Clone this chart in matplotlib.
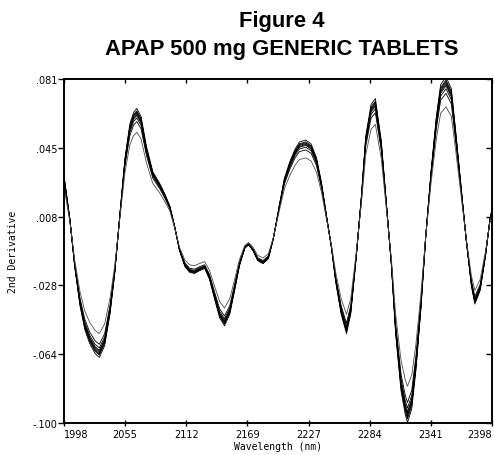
import numpy as np
import matplotlib
matplotlib.use("Agg")
import matplotlib.pyplot as plt

# 2nd derivative NIR spectra, APAP 500 mg generic tablets
# wavelength (nm) and the mean 2nd derivative
wl = [1998, 2003.5, 2008, 2013, 2017.5, 2022, 2027, 2031, 2036, 2041,
      2045.5, 2050, 2055, 2059.5, 2063, 2066, 2070, 2075, 2081, 2087.5,
      2092, 2097, 2101.5, 2106, 2111, 2115.5, 2120, 2125, 2129.5, 2134,
      2139, 2143.5, 2148, 2153, 2157.5, 2162, 2167, 2170.5, 2174.7, 2179,
      2184, 2189, 2193.6, 2199.6, 2204, 2209, 2214, 2218, 2224, 2229,
      2234, 2238.6, 2243, 2248, 2252, 2257, 2262, 2266, 2271, 2276,
      2280, 2285, 2289, 2294.5, 2299, 2304, 2308, 2313, 2317, 2319,
      2323, 2327, 2331.6, 2336, 2341, 2346, 2350, 2355, 2360, 2364,
      2369, 2374, 2378.8, 2382, 2387, 2392, 2396, 2398]
d2 = [0.029, 0.007, -0.017, -0.037, -0.049, -0.056, -0.061, -0.063, -0.057, -0.041,
      -0.020, 0.008, 0.038, 0.055, 0.061, 0.063, 0.059, 0.044, 0.031, 0.025,
      0.020, 0.0135, 0.003, -0.009, -0.017, -0.020, -0.0205, -0.019, -0.018, -0.0235,
      -0.034, -0.043, -0.047, -0.041, -0.029, -0.0166, -0.0077, -0.006, -0.009, -0.014,
      -0.0156, -0.013, -0.003, 0.015, 0.0277, 0.036, 0.0425, 0.046, 0.047, 0.045,
      0.038, 0.0256, 0.0098, -0.0077, -0.025, -0.041, -0.051, -0.041, -0.013, 0.019,
      0.049, 0.065, 0.068, 0.0467, 0.017, -0.0166, -0.0514, -0.080, -0.092, -0.096,
      -0.089, -0.069, -0.038, -0.0024, 0.031, 0.059, 0.075, 0.079, 0.073, 0.052,
      0.024, -0.004, -0.027, -0.036, -0.029, -0.0113, 0.0066, 0.012]

# relative band height of each tablet (read from the peaks)
tablets = [1.04, 1.02, 1.01, 1.0, 0.99, 0.98, 0.96, 0.93, 0.84]

xticks = [1998, 2055.14, 2112.29, 2169.43, 2226.57, 2283.71, 2340.86, 2398]
xlabels = ["1998", "2055", "2112", "2169", "2227", "2284", "2341", "2398"]
yticks = [0.081, 0.0448, 0.0086, -0.0276, -0.0638, -0.100]
ylabels = [".081", ".045", ".008", "-.028", "-.064", "-.100"]

wl = np.array(wl)
d2 = np.array(d2)

fig = plt.figure(figsize=(4.94, 4.56), dpi=100)
ax = fig.add_axes([64/494, 1 - 424/456, 428/494, 344/456])

for k in tablets:
    c = "0.3" if k < 0.9 else "black"
    ax.plot(wl, d2*k, color=c, lw=0.6)

ax.set_xlim(1998, 2398)
ax.set_ylim(-0.100, 0.081)
ax.set_xticks(xticks)
ax.set_xticklabels(xlabels)
ax.set_yticks(yticks)
ax.set_yticklabels(ylabels)

mono = "DejaVu Sans Mono"
for lab in ax.get_xticklabels() + ax.get_yticklabels():
    lab.set_family("DejaVu Sans")
    lab.set_fontsize(7)
xl = ax.get_xticklabels()
xl[0].set_ha("left")
xl[-1].set_ha("right")

ax.tick_params(axis="x", direction="inout", length=5, width=1, top=True, pad=2)
ax.tick_params(axis="y", direction="out", length=4, width=1, pad=1)
ax.tick_params(axis="y", which="major", right=True)
for t in ax.yaxis.get_major_ticks():
    t.tick2line.set_marker(matplotlib.lines.TICKLEFT)
    t.tick2line.set_markersize(4)
for t in ax.xaxis.get_major_ticks():
    t.tick2line.set_marker(matplotlib.lines.TICKDOWN)
    t.tick2line.set_markersize(3)
for s in ax.spines.values():
    s.set_linewidth(1.4)

ax.set_xlabel("Wavelength (nm)", family=mono, fontsize=7, labelpad=1)
ax.set_ylabel("2nd Derivative", family=mono, fontsize=7, labelpad=10)

fig.text(0.571, 1 - 21/456, "Figure 4", ha="center", va="center",
         fontsize=15.8, fontweight="bold", family="Liberation Sans")
fig.text(0.571, 1 - 50/456, "APAP 500 mg GENERIC TABLETS", ha="center",
         va="center", fontsize=15.8, fontweight="bold", family="Liberation Sans")

fig.savefig("out.png", dpi=100)
